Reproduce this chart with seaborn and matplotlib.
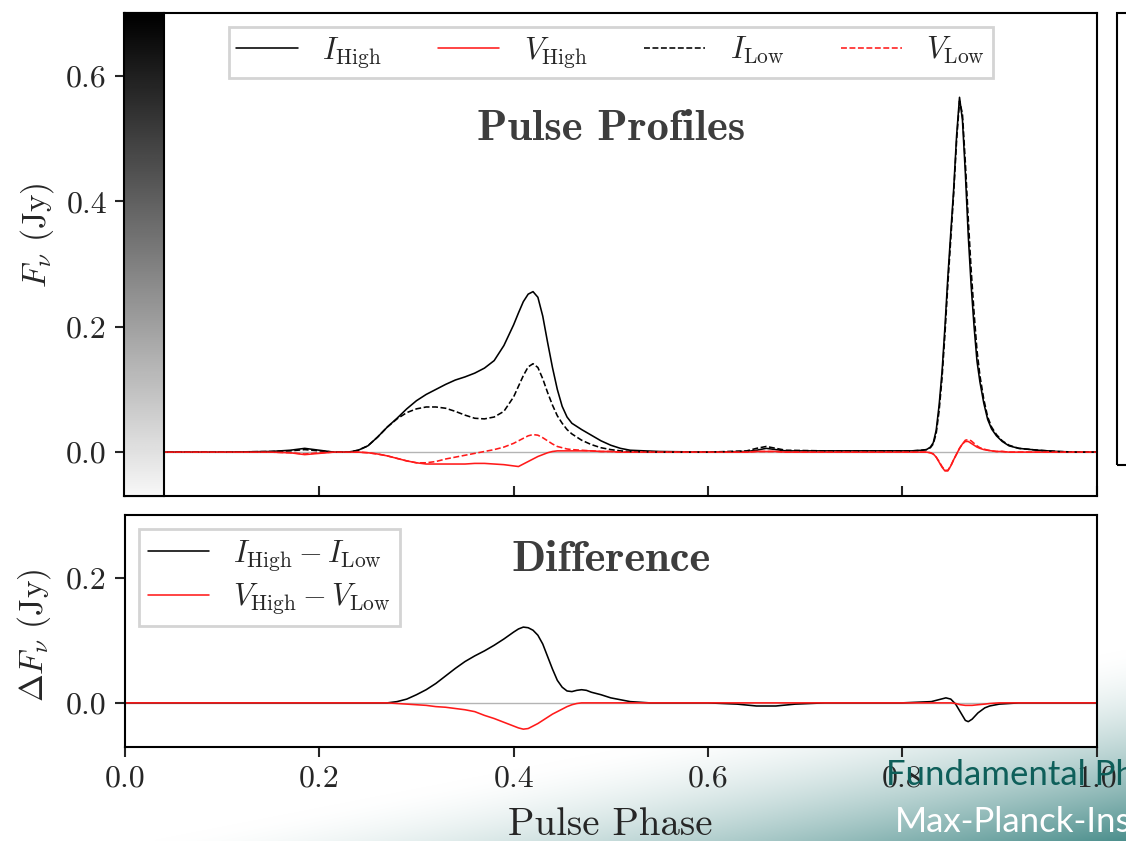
import numpy as np
import matplotlib
matplotlib.use("Agg")
import matplotlib.pyplot as plt
from matplotlib.patches import Rectangle
import seaborn as sns

# ---------------- pulse profile data (flux density in Jy vs pulse phase) ----------------
phase = [0.00, 0.05, 0.10, 0.15, 0.17, 0.185, 0.20, 0.215, 0.23, 0.24, 0.25, 0.26, 0.27,
         0.28, 0.29, 0.30, 0.31, 0.32, 0.33, 0.34, 0.35, 0.36, 0.37, 0.38, 0.39, 0.40,
         0.405, 0.41, 0.415, 0.42, 0.425, 0.43, 0.435, 0.44, 0.445, 0.45, 0.455, 0.46,
         0.47, 0.48, 0.49, 0.50, 0.51, 0.52, 0.55, 0.60, 0.64, 0.65, 0.66, 0.67, 0.68,
         0.72, 0.78, 0.81, 0.82, 0.825, 0.829, 0.832, 0.835, 0.838, 0.841, 0.844, 0.847,
         0.850, 0.853, 0.856, 0.859, 0.862, 0.865, 0.868, 0.871, 0.874, 0.877, 0.880,
         0.884, 0.888, 0.892, 0.897, 0.903, 0.91, 0.92, 0.94, 0.96, 0.98, 1.00]

i_high = [0.000, 0.000, 0.000, 0.001, 0.003, 0.006, 0.003, 0.000, 0.000, 0.003, 0.010, 0.024, 0.040,
          0.054, 0.069, 0.082, 0.092, 0.100, 0.108, 0.115, 0.120, 0.126, 0.134, 0.146, 0.170, 0.203,
          0.222, 0.240, 0.252, 0.256, 0.247, 0.217, 0.175, 0.135, 0.100, 0.073, 0.056, 0.046,
          0.036, 0.027, 0.018, 0.011, 0.006, 0.003, 0.001, 0.000, 0.001, 0.003, 0.006, 0.004, 0.002,
          0.002, 0.002, 0.002, 0.003, 0.004, 0.008, 0.015, 0.035, 0.075, 0.128, 0.200, 0.280,
          0.350, 0.420, 0.505, 0.566, 0.530, 0.445, 0.345, 0.265, 0.200, 0.145, 0.112,
          0.078, 0.052, 0.037, 0.026, 0.017, 0.010, 0.006, 0.003, 0.001, 0.000, 0.000]

v_high = [0.000, 0.000, 0.000, 0.000, -0.001, -0.004, -0.002, 0.000, 0.000, 0.000, -0.001, -0.003, -0.006,
          -0.010, -0.014, -0.017, -0.019, -0.019, -0.019, -0.019, -0.019, -0.018, -0.018, -0.019, -0.020, -0.022,
          -0.023, -0.019, -0.015, -0.011, -0.007, -0.004, -0.001, 0.001, 0.002, 0.002, 0.002, 0.002,
          0.002, 0.002, 0.001, 0.001, 0.000, 0.000, 0.000, 0.000, 0.000, 0.001, 0.001, 0.001, 0.000,
          0.000, 0.000, 0.000, 0.000, 0.000, -0.001, -0.003, -0.008, -0.016, -0.024, -0.030, -0.030,
          -0.022, -0.012, -0.003, 0.006, 0.013, 0.017, 0.017, 0.014, 0.011, 0.008, 0.006,
          0.004, 0.003, 0.002, 0.001, 0.001, 0.000, 0.000, 0.000, 0.000, 0.000, 0.000]

i_low = [0.000, 0.000, 0.000, 0.001, 0.002, 0.004, 0.002, 0.000, 0.000, 0.003, 0.010, 0.024, 0.040,
         0.053, 0.063, 0.069, 0.072, 0.072, 0.070, 0.065, 0.059, 0.054, 0.053, 0.056, 0.065, 0.088,
         0.105, 0.122, 0.136, 0.141, 0.135, 0.117, 0.095, 0.075, 0.058, 0.046, 0.036, 0.029,
         0.019, 0.012, 0.007, 0.004, 0.002, 0.001, 0.000, 0.000, 0.002, 0.006, 0.009, 0.006, 0.003,
         0.002, 0.002, 0.002, 0.003, 0.004, 0.007, 0.013, 0.030, 0.066, 0.118, 0.188, 0.268,
         0.340, 0.412, 0.497, 0.560, 0.540, 0.462, 0.372, 0.290, 0.222, 0.162, 0.122,
         0.084, 0.056, 0.040, 0.028, 0.018, 0.011, 0.006, 0.003, 0.001, 0.000, 0.000]

v_low = [0.000, 0.000, 0.000, 0.000, -0.001, -0.003, -0.001, 0.000, 0.000, 0.000, -0.001, -0.003, -0.006,
         -0.010, -0.014, -0.017, -0.017, -0.015, -0.011, -0.008, -0.005, -0.002, 0.001, 0.004, 0.008, 0.014,
         0.018, 0.022, 0.026, 0.028, 0.027, 0.023, 0.018, 0.013, 0.009, 0.007, 0.005, 0.004,
         0.003, 0.002, 0.001, 0.001, 0.000, 0.000, 0.000, 0.000, 0.000, 0.001, 0.001, 0.001, 0.000,
         0.000, 0.000, 0.000, 0.000, 0.000, -0.001, -0.003, -0.008, -0.015, -0.023, -0.029, -0.029,
         -0.022, -0.012, -0.003, 0.006, 0.013, 0.019, 0.020, 0.018, 0.014, 0.010, 0.007,
         0.005, 0.003, 0.002, 0.001, 0.001, 0.000, 0.000, 0.000, 0.000, 0.000, 0.000]

# ---------------- difference profiles (high minus low state) ----------------
phase_diff = [0.00, 0.10, 0.20, 0.27, 0.28, 0.29, 0.30, 0.31, 0.32, 0.33, 0.34, 0.35, 0.36, 0.37,
              0.38, 0.39, 0.40, 0.405, 0.41, 0.415, 0.42, 0.425, 0.43, 0.435, 0.44, 0.445, 0.45,
              0.455, 0.46, 0.465, 0.47, 0.475, 0.48, 0.49, 0.50, 0.51, 0.52, 0.54, 0.60, 0.63,
              0.65, 0.67, 0.69, 0.72, 0.80, 0.83, 0.84, 0.845, 0.85, 0.855, 0.86, 0.865, 0.868,
              0.872, 0.878, 0.885, 0.89, 0.90, 0.92, 1.00]

d_i = [0.000, 0.000, 0.000, 0.000, 0.002, 0.006, 0.013, 0.021, 0.031, 0.043, 0.055, 0.066, 0.075, 0.083,
       0.092, 0.102, 0.113, 0.118, 0.121, 0.120, 0.116, 0.108, 0.094, 0.074, 0.054, 0.036, 0.025,
       0.019, 0.018, 0.020, 0.021, 0.020, 0.017, 0.013, 0.008, 0.005, 0.002, 0.000, 0.000, -0.002,
       -0.005, -0.005, -0.002, 0.000, 0.000, 0.002, 0.006, 0.008, 0.006, -0.002, -0.015, -0.028, -0.030,
       -0.026, -0.016, -0.008, -0.005, -0.002, 0.000, 0.000]

d_v = [0.000, 0.000, 0.000, 0.000, -0.001, -0.002, -0.003, -0.004, -0.006, -0.007, -0.009, -0.011, -0.014, -0.020,
       -0.025, -0.031, -0.037, -0.040, -0.042, -0.041, -0.037, -0.033, -0.028, -0.023, -0.018, -0.014, -0.010,
       -0.006, -0.003, -0.001, 0.000, 0.000, 0.000, 0.000, 0.000, 0.000, 0.000, 0.000, 0.000, 0.000,
       0.000, 0.000, 0.000, 0.000, 0.000, 0.000, 0.000, 0.000, 0.000, -0.001, -0.003, -0.004, -0.004,
       -0.004, -0.003, -0.002, -0.001, 0.000, 0.000, 0.000]

x_ticks = [0.0, 0.2, 0.4, 0.6, 0.8, 1.0]
top_yticks = [0.0, 0.2, 0.4, 0.6]
bot_yticks = [0.0, 0.2]

# ---------------- style ----------------
sns.set_style("ticks")
plt.rcParams.update({
    "font.family": "serif",
    "font.serif": ["cmr10"],
    "mathtext.fontset": "cm",
    "axes.formatter.use_mathtext": True,
    "axes.linewidth": 1.5,
    "axes.edgecolor": "black",
})

W, H = 1126, 841
fig = plt.figure(figsize=(W / 100, H / 100), dpi=100)

def fx(px):
    return px / W

def fy(py):
    return 1 - py / H

# slide background with a teal sweep towards the lower right corner
bg = fig.add_axes([0, 0, 1, 1], zorder=-10)
yy, xx = np.mgrid[0:H, 0:W]
s = (xx - 150) * 0.192 + (yy - 841) * 0.981
t = np.clip(s / 195.0, 0, 1) ** 1.5
teal = np.array([0.25, 0.53, 0.52])
rgb = 1 - t[..., None] * (1 - teal)
bg.imshow(rgb, extent=[0, 1, 0, 1], aspect="auto", origin="upper")
bg.axis("off")

left, right = 125, 1096.5
ax_top = fig.add_axes([fx(left), fy(496), fx(right - left), (496 - 13.3) / H])
ax_bot = fig.add_axes([fx(left), fy(746.7), fx(right - left), (746.7 - 515) / H])

lw = 1.15
red = "#ff1a1a"

for ax in (ax_top, ax_bot):
    ax.axhline(0, color="#b4b4b4", lw=1.0, zorder=1)

# upper panel: full profiles
sns.lineplot(x=phase, y=i_high, ax=ax_top, color="black", lw=lw, label=r"$I_{\rm High}$",
             estimator=None, sort=False)
sns.lineplot(x=phase, y=v_high, ax=ax_top, color=red, lw=lw, label=r"$V_{\rm High}$",
             estimator=None, sort=False)
sns.lineplot(x=phase, y=i_low, ax=ax_top, color="black", lw=lw, linestyle="--",
             label=r"$I_{\rm Low}$", estimator=None, sort=False)
sns.lineplot(x=phase, y=v_low, ax=ax_top, color=red, lw=lw, linestyle="--",
             label=r"$V_{\rm Low}$", estimator=None, sort=False)

ax_top.set_xlim(0, 1)
ax_top.set_ylim(-0.07, 0.70)
ax_top.set_xticks(x_ticks)
ax_top.set_yticks(top_yticks)
ax_top.set_yticklabels([f"{v:.1f}" for v in top_yticks])
ax_top.tick_params(axis="x", direction="in", length=7, width=1.5, labelbottom=False)
ax_top.tick_params(axis="y", direction="out", length=7, width=1.5, labelsize=23, pad=6)
ax_top.set_xlabel("")
ax_top.set_ylabel(r"$F_\nu$ (Jy)", fontsize=24)
ax_top.yaxis.set_label_coords(-0.071, 0.54)
leg = ax_top.legend(loc="upper center", ncol=4, fontsize=22, frameon=True, fancybox=False,
                    edgecolor="#d4d4d4", framealpha=1, borderaxespad=0.45, borderpad=0.25,
                    columnspacing=1.85)
leg.get_frame().set_linewidth(2)
ax_top.text(0.5, 0.7365, "Pulse Profiles", transform=ax_top.transAxes, ha="center",
            va="baseline", fontsize=32, family="cmb10", color="#3d3d3d")

# lower panel: differences
sns.lineplot(x=phase_diff, y=d_i, ax=ax_bot, color="black", lw=lw,
             label=r"$I_{\rm High} - I_{\rm Low}$", estimator=None, sort=False)
sns.lineplot(x=phase_diff, y=d_v, ax=ax_bot, color=red, lw=lw,
             label=r"$V_{\rm High} - V_{\rm Low}$", estimator=None, sort=False)
ax_bot.set_xlim(0, 1)
ax_bot.set_ylim(-0.07, 0.30)
ax_bot.set_xticks(x_ticks)
ax_bot.set_xticklabels([f"{v:.1f}" for v in x_ticks])
ax_bot.set_yticks(bot_yticks)
ax_bot.set_yticklabels([f"{v:.1f}" for v in bot_yticks])
ax_bot.tick_params(axis="both", direction="out", length=7, width=1.5, labelsize=23, pad=6)
ax_bot.set_xlabel("Pulse Phase", fontsize=28, labelpad=11)
ax_bot.set_ylabel(r"$\Delta F_\nu$ (Jy)", fontsize=24)
ax_bot.yaxis.set_label_coords(-0.074, 0.48)
leg2 = ax_bot.legend(loc="upper left", fontsize=22, frameon=True, fancybox=False,
                     edgecolor="#d4d4d4", framealpha=1, borderaxespad=0.45, borderpad=0.3,
                     labelspacing=0.28)
leg2.get_frame().set_linewidth(2)
ax_bot.text(0.5, 0.76, "Difference", transform=ax_bot.transAxes, ha="center",
            va="baseline", fontsize=32, family="cmb10", color="#3d3d3d")

# grey shaded bar laid over the left edge of the upper panel
bar = fig.add_axes([fx(124), fy(496), fx(40), (496 - 13.3) / H], zorder=5)
grad = np.linspace(0.0, 0.97, 256)[:, None] * np.ones((1, 4))
bar.imshow(grad, cmap="gray", vmin=0, vmax=1, aspect="auto", origin="upper",
           extent=[0, 1, 0, 1])
bar.set_xticks([])
bar.set_yticks([])
for sp in bar.spines.values():
    sp.set_linewidth(1.5)
    sp.set_color("black")

# neighbouring panel frame on the right
fig.patches.append(Rectangle((fx(1117), fy(465)), 0.1, (465 - 13.3) / H, transform=fig.transFigure,
                             fill=False, ec="black", lw=1.5, zorder=3))

# slide footer text
fig.text(fx(886), fy(785), "Fundamental Physics", color="#0e5f5a", fontsize=25,
         family="Lato", zorder=20)
fig.text(fx(895), fy(832), "Max-Planck-Institut", color="white", fontsize=25,
         family="Lato", zorder=20)

fig.savefig("out.png", dpi=100)
